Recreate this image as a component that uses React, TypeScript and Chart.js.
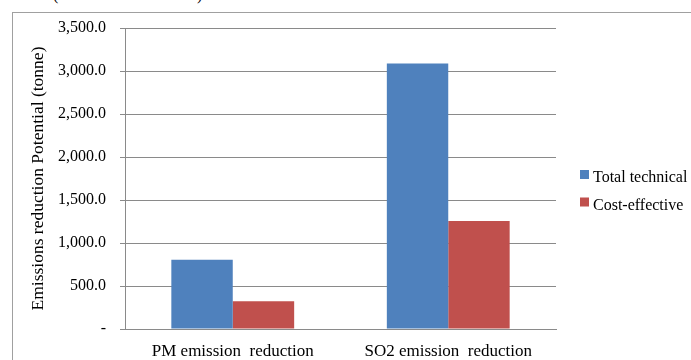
import React, { useEffect, useRef } from "react";
import { Chart, registerables } from "chart.js";

Chart.register(...registerables);

const categories = ["PM emission  reduction", "SO2 emission  reduction"];
const seriesNames = ["Total technical", "Cost-effective"];
const totalTechnical = [805, 3088];
const costEffective = [323, 1257];
const seriesColors = ["#4F81BD", "#C0504D"];
const yTitle = "Emissions reduction Potential (tonne)";
const yMin = 0;
const yMax = 3500;
const yStep = 500;

const FONT = "'Liberation Serif', 'Times New Roman', serif";

const legendPlugin = {
  id: "sideLegend",
  afterDraw(chart: any) {
    const ctx = chart.ctx;
    ctx.save();
    chart.data.datasets.forEach((ds: any, i: number) => {
      const boxY = 170 + i * 27.5;
      ctx.fillStyle = ds.backgroundColor;
      ctx.fillRect(580, boxY, 9, 9);
      ctx.fillStyle = "#000";
      ctx.font = `16px ${FONT}`;
      ctx.textBaseline = "alphabetic";
      ctx.textAlign = "left";
      ctx.fillText(ds.label, 593, boxY + 12);
    });
    ctx.restore();
  },
};

export default function App() {
  const ref = useRef<HTMLCanvasElement | null>(null);

  useEffect(() => {
    if (!ref.current) return;
    const chart = new Chart(ref.current, {
      type: "bar",
      data: {
        labels: categories,
        datasets: [
          {
            label: seriesNames[0],
            data: totalTechnical,
            backgroundColor: seriesColors[0],
            borderWidth: 0,
          },
          {
            label: seriesNames[1],
            data: costEffective,
            backgroundColor: seriesColors[1],
            borderWidth: 0,
          },
        ],
      },
      options: {
        responsive: false,
        animation: false,
        devicePixelRatio: 1,
        layout: { padding: { left: 24, right: 135, top: 28, bottom: 0 } },
        datasets: { bar: { categoryPercentage: 0.57, barPercentage: 1 } },
        plugins: {
          legend: { display: false },
          tooltip: { enabled: false },
        },
        scales: {
          x: {
            grid: { display: false, drawTicks: false },
            border: { display: true, color: "#8a8a8a", width: 1 },
            ticks: {
              color: "#000",
              font: { family: FONT, size: 17 },
              padding: 12,
              maxRotation: 0,
              autoSkip: false,
            },
            afterFit: (scale: any) => {
              scale.height = 31;
            },
          },
          y: {
            min: yMin,
            max: yMax,
            grid: {
              color: "#8a8a8a",
              lineWidth: 1,
              drawTicks: true,
              tickLength: 5,
            },
            border: { display: true, color: "#8a8a8a", width: 1 },
            ticks: {
              stepSize: yStep,
              color: "#000",
              font: { family: FONT, size: 16 },
              padding: 14,
              callback: (v: any) =>
                Number(v) === 0
                  ? "-"
                  : Number(v).toLocaleString("en-US", {
                      minimumFractionDigits: 1,
                      maximumFractionDigits: 1,
                    }),
            },
            title: {
              display: true,
              text: yTitle,
              color: "#000",
              font: { family: FONT, size: 17.5 },
              padding: { top: 4, bottom: 4 },
            },
            afterFit: (scale: any) => {
              scale.width = 101;
            },
          },
        },
      },
      plugins: [legendPlugin],
    } as any);
    return () => chart.destroy();
  }, []);

  return (
    <div
      style={{
        position: "fixed",
        left: 0,
        top: 0,
        width: 691,
        height: 360,
        overflow: "hidden",
        background: "#fff",
      }}
    >
      <div
        style={{
          position: "absolute",
          left: 53,
          top: -13,
          fontFamily: FONT,
          fontSize: 16,
          lineHeight: "16px",
          color: "#000",
        }}
      >
        (
      </div>
      <div
        style={{
          position: "absolute",
          left: 197,
          top: -13,
          fontFamily: FONT,
          fontSize: 16,
          lineHeight: "16px",
          color: "#000",
        }}
      >
        )
      </div>
      <div
        style={{
          position: "absolute",
          left: 12,
          top: 12,
          width: 800,
          height: 500,
          border: "1px solid #a0a0a0",
        }}
      />
      <canvas
        ref={ref}
        width={691}
        height={360}
        style={{ position: "absolute", left: 0, top: 0, width: 691, height: 360 }}
      />
    </div>
  );
}
